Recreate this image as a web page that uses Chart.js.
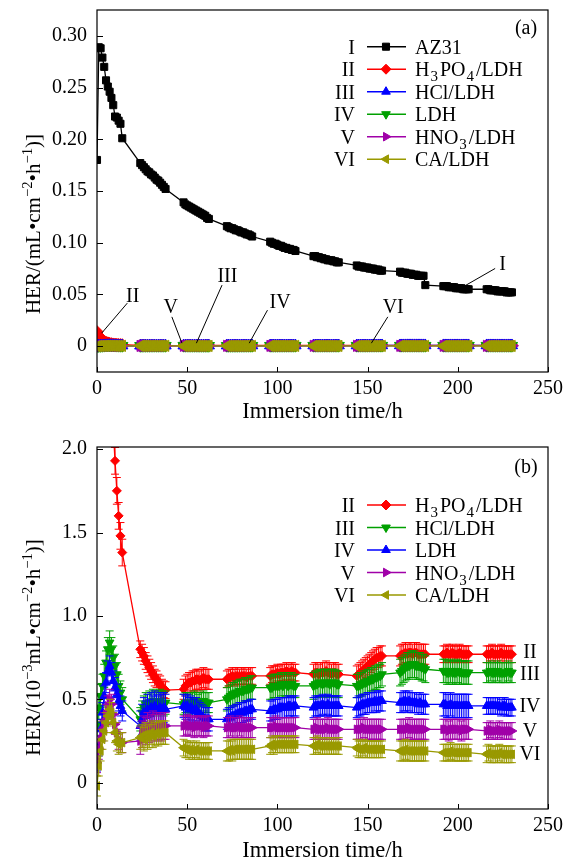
<!DOCTYPE html>
<html><head><meta charset="utf-8">
<script src="https://cdn.jsdelivr.net/npm/chart.js@4/dist/chart.umd.min.js"></script>
<style>
html,body{margin:0;padding:0;background:#fff;}
#wrap{position:relative;width:566px;height:865px;overflow:hidden;}
#ca{position:absolute;left:0;top:0;width:566px;height:430px;}
#cb{position:absolute;left:0;top:430px;width:566px;height:435px;}
</style></head><body>
<div id="wrap"><canvas id="ca" width="566" height="430"></canvas><canvas id="cb" width="566" height="435"></canvas></div>
<script>
// ---------------- data ----------------
const hours = [0,1,2,3,4,5,6,7,8,9,10,11,12,13,14,
24,25,26,27,28,29,30,31,32,33,34,35,36,37,38,
48,49,50,51,52,53,54,55,56,57,58,59,60,61,62,
72,73,74,75,76,77,78,79,80,81,82,83,84,85,86,
96,97,98,99,100,101,102,103,104,105,106,107,108,109,110,
120,121,122,123,124,125,126,127,128,129,130,131,132,133,134,
144,145,146,147,148,149,150,151,152,153,154,155,156,157,158,
168,169,170,171,172,173,174,175,176,177,178,179,180,181,182,
192,193,194,195,196,197,198,199,200,201,202,203,204,205,206,
216,217,218,219,220,221,222,223,224,225,226,227,228,229,230];

// HER of bare AZ31, mL cm^-2 h^-1
const az31 = [
0.180,0.289,0.288,0.279,0.270,0.257,0.251,0.246,0.240,0.233,0.222,0.221,0.218,0.215,0.201,
0.177,0.175,0.173,0.171,0.169,0.168,0.166,0.165,0.163,0.161,0.160,0.158,0.156,0.154,0.152,
0.139,0.137,0.136,0.135,0.134,0.133,0.132,0.131,0.130,0.129,0.128,0.127,0.126,0.124,0.123,
0.116,0.115,0.114,0.114,0.113,0.112,0.112,0.111,0.110,0.110,0.109,0.108,0.108,0.107,0.106,
0.101,0.100,0.099,0.099,0.098,0.097,0.097,0.096,0.095,0.095,0.094,0.094,0.093,0.093,0.092,
0.087,0.087,0.086,0.086,0.085,0.085,0.084,0.084,0.083,0.083,0.083,0.082,0.082,0.081,0.081,
0.078,0.077,0.077,0.077,0.076,0.076,0.076,0.075,0.075,0.075,0.074,0.074,0.074,0.073,0.073,
0.072,0.071,0.071,0.071,0.070,0.070,0.070,0.069,0.069,0.069,0.068,0.068,0.068,0.068,0.059,
0.058,0.058,0.058,0.057,0.057,0.057,0.057,0.056,0.056,0.056,0.056,0.055,0.055,0.055,0.055,
0.055,0.055,0.054,0.054,0.054,0.054,0.053,0.053,0.053,0.053,0.053,0.052,0.052,0.052,0.052];

// coated samples, 10^-3 mL cm^-2 h^-1
const h3po4 = [
14.0,10.0,7.2,5.6,4.6,3.8,3.2,2.75,2.4,2.12,1.93,1.75,1.60,1.48,1.38,
0.80,0.78,0.76,0.73,0.71,0.69,0.67,0.65,0.63,0.62,0.60,0.59,0.57,0.56,0.555,
0.56,0.58,0.59,0.60,0.60,0.61,0.61,0.62,0.62,0.61,0.62,0.63,0.62,0.62,0.62,
0.62,0.63,0.63,0.64,0.63,0.64,0.64,0.63,0.64,0.64,0.64,0.63,0.64,0.64,0.64,
0.64,0.65,0.65,0.65,0.66,0.65,0.66,0.66,0.66,0.67,0.66,0.66,0.67,0.66,0.66,
0.65,0.66,0.66,0.65,0.66,0.66,0.66,0.67,0.66,0.66,0.65,0.66,0.66,0.65,0.65,
0.64,0.65,0.66,0.67,0.68,0.69,0.70,0.71,0.72,0.73,0.74,0.75,0.75,0.76,0.76,
0.76,0.77,0.77,0.78,0.77,0.78,0.78,0.77,0.78,0.78,0.77,0.77,0.77,0.77,0.77,
0.77,0.77,0.78,0.77,0.77,0.78,0.77,0.77,0.77,0.78,0.77,0.77,0.77,0.77,0.77,
0.77,0.77,0.77,0.78,0.77,0.77,0.77,0.77,0.78,0.77,0.77,0.77,0.77,0.77,0.77];
const hcl = [
0.35,0.45,0.52,0.58,0.64,0.72,0.80,0.84,0.80,0.75,0.70,0.65,0.58,0.54,0.50,
0.38,0.42,0.45,0.47,0.46,0.48,0.47,0.49,0.48,0.47,0.48,0.49,0.48,0.47,0.48,
0.47,0.48,0.48,0.47,0.48,0.48,0.49,0.48,0.47,0.48,0.48,0.49,0.48,0.48,0.48,
0.50,0.51,0.52,0.53,0.53,0.54,0.54,0.55,0.55,0.55,0.56,0.56,0.56,0.57,0.57,
0.57,0.57,0.58,0.58,0.58,0.58,0.59,0.58,0.59,0.59,0.58,0.59,0.59,0.58,0.58,
0.58,0.59,0.59,0.60,0.60,0.59,0.60,0.60,0.60,0.59,0.60,0.60,0.60,0.59,0.59,
0.58,0.58,0.59,0.59,0.60,0.60,0.61,0.61,0.62,0.62,0.63,0.63,0.64,0.64,0.65,
0.66,0.67,0.68,0.69,0.70,0.70,0.71,0.71,0.71,0.70,0.70,0.70,0.69,0.69,0.68,
0.67,0.67,0.66,0.66,0.67,0.66,0.66,0.66,0.67,0.66,0.66,0.66,0.66,0.66,0.66,
0.66,0.66,0.67,0.66,0.66,0.66,0.67,0.66,0.66,0.66,0.66,0.66,0.67,0.66,0.66];
const ldh = [
0.13,0.22,0.32,0.42,0.52,0.60,0.67,0.70,0.66,0.61,0.57,0.53,0.49,0.46,0.43,
0.34,0.38,0.42,0.40,0.44,0.41,0.45,0.43,0.46,0.44,0.43,0.45,0.44,0.45,0.44,
0.46,0.45,0.46,0.44,0.45,0.44,0.43,0.44,0.42,0.41,0.40,0.39,0.38,0.38,0.38,
0.38,0.39,0.39,0.40,0.40,0.41,0.41,0.42,0.42,0.42,0.43,0.43,0.43,0.44,0.44,
0.43,0.43,0.44,0.44,0.44,0.45,0.45,0.45,0.45,0.45,0.46,0.46,0.45,0.46,0.46,
0.45,0.46,0.46,0.46,0.46,0.47,0.46,0.46,0.47,0.46,0.46,0.46,0.46,0.46,0.46,
0.45,0.46,0.46,0.47,0.47,0.47,0.48,0.48,0.48,0.48,0.49,0.48,0.49,0.49,0.49,
0.48,0.48,0.49,0.49,0.48,0.49,0.48,0.48,0.48,0.48,0.47,0.48,0.47,0.47,0.47,
0.47,0.47,0.46,0.46,0.47,0.46,0.46,0.46,0.46,0.46,0.46,0.46,0.46,0.46,0.46,
0.46,0.46,0.46,0.46,0.46,0.46,0.46,0.46,0.45,0.46,0.46,0.45,0.45,0.45,0.45];
const hno3 = [
0.12,0.20,0.26,0.31,0.36,0.41,0.46,0.50,0.47,0.41,0.35,0.30,0.26,0.24,0.24,
0.25,0.29,0.32,0.31,0.34,0.32,0.33,0.35,0.33,0.34,0.33,0.34,0.33,0.34,0.34,
0.34,0.34,0.35,0.34,0.34,0.34,0.33,0.34,0.34,0.34,0.34,0.33,0.34,0.34,0.34,
0.33,0.33,0.34,0.33,0.33,0.33,0.33,0.34,0.33,0.33,0.33,0.33,0.33,0.33,0.33,
0.33,0.33,0.33,0.34,0.33,0.33,0.33,0.33,0.33,0.33,0.33,0.33,0.33,0.33,0.33,
0.32,0.32,0.33,0.32,0.32,0.32,0.32,0.32,0.33,0.32,0.32,0.32,0.32,0.32,0.32,
0.32,0.32,0.32,0.32,0.33,0.32,0.32,0.32,0.32,0.32,0.32,0.32,0.32,0.32,0.32,
0.32,0.32,0.32,0.32,0.32,0.33,0.32,0.32,0.32,0.32,0.32,0.32,0.32,0.32,0.32,
0.32,0.32,0.32,0.31,0.32,0.32,0.32,0.32,0.32,0.32,0.31,0.32,0.32,0.32,0.32,
0.31,0.31,0.32,0.31,0.31,0.31,0.31,0.32,0.31,0.31,0.31,0.31,0.31,0.31,0.31];
const ca = [
-0.02,0.10,0.19,0.26,0.31,0.36,0.40,0.44,0.42,0.36,0.30,0.25,0.23,0.24,0.24,
0.27,0.28,0.26,0.29,0.27,0.28,0.30,0.28,0.29,0.30,0.29,0.30,0.30,0.30,0.30,
0.21,0.20,0.20,0.19,0.20,0.19,0.19,0.20,0.19,0.19,0.19,0.19,0.19,0.19,0.19,
0.19,0.19,0.20,0.19,0.20,0.20,0.20,0.20,0.20,0.20,0.20,0.20,0.20,0.20,0.20,
0.22,0.23,0.22,0.23,0.23,0.23,0.23,0.23,0.23,0.23,0.23,0.23,0.23,0.23,0.23,
0.22,0.22,0.23,0.22,0.22,0.22,0.22,0.22,0.22,0.22,0.22,0.22,0.22,0.22,0.22,
0.21,0.20,0.20,0.20,0.21,0.20,0.20,0.20,0.20,0.20,0.20,0.20,0.20,0.20,0.20,
0.19,0.19,0.19,0.20,0.19,0.19,0.19,0.19,0.19,0.19,0.19,0.19,0.19,0.19,0.19,
0.18,0.18,0.18,0.18,0.19,0.18,0.18,0.18,0.18,0.18,0.18,0.18,0.18,0.18,0.18,
0.17,0.18,0.17,0.17,0.17,0.17,0.17,0.18,0.17,0.17,0.17,0.17,0.17,0.17,0.17];

// error-bar half widths per daily measuring block (10^-3 units)
const errH3po4 = [0.08,0.05,0.06,0.05,0.05,0.06,0.06,0.06,0.05,0.05];
const errHcl   = [0.07,0.07,0.06,0.07,0.07,0.08,0.07,0.08,0.07,0.06];
const errLdh   = [0.06,0.09,0.07,0.06,0.06,0.06,0.06,0.06,0.07,0.05];
const errHno3  = [0.06,0.08,0.06,0.06,0.06,0.06,0.06,0.06,0.06,0.05];
const errCa    = [0.06,0.07,0.05,0.06,0.05,0.05,0.05,0.06,0.05,0.05];

const xTicks = [0,50,100,150,200,250];
const xTickLabels = ['0','50','100','150','200','250'];
const yTicksA = [0,0.05,0.10,0.15,0.20,0.25,0.30];
const yTickLabelsA = ['0','0.05','0.10','0.15','0.20','0.25','0.30'];
const yTicksB = [0,0.5,1.0,1.5,2.0];
const yTickLabelsB = ['0','0.5','1.0','1.5','2.0'];
const labelsB = [['II',0.78],['III',0.646],['IV',0.454],['V',0.306],['VI',0.166]];
// panel (a) callouts: text, label position, leader line from -> to (data units)
const calloutsA = [
  ['I',  224.8,0.0783, 203.6,0.058, 220.7,0.0751],
  ['II', 19.8,0.0474,  2.6,0.0126, 16.8,0.0416],
  ['V',  40.9,0.0367,  47.1,0.0029, 41.5,0.0283],
  ['III',72.3,0.067,   55.1,0.0029, 69.3,0.059],
  ['IV', 101.5,0.0416, 84.4,0.0029, 94.5,0.0348],
  ['VI', 164.2,0.0367, 152.1,0.0029, 161.2,0.0283]
];

// ---------------- style ----------------
const F = "'Liberation Serif','Times New Roman',serif";
const RED='#ff0000', BLUE='#0000ff', GREEN='#00a000', MAG='#a000a8', OLIVE='#999900';

function pts(arr, k){ return hours.map((h,i)=>({x:h, y: arr[i]*(k||1)})); }
function errs(blocks){ return hours.map((h,i)=>blocks[Math.floor(i/15)]); }

function drawRich(ctx, runs, x, y, size, align){
  const fontOf = r => (r[1]==='n'?size:size*(r[1]==='sub'?0.75:0.7))+'px '+F;
  const gap = r => r[1]==='sub' ? 3 : 0;
  let w = 0;
  runs.forEach(r=>{ ctx.font = fontOf(r); w += ctx.measureText(r[0]).width + gap(r); });
  let cx = align==='center' ? x - w/2 : (align==='right' ? x - w : x);
  ctx.textAlign='left'; ctx.textBaseline='alphabetic';
  runs.forEach(r=>{
    ctx.font = fontOf(r);
    const dy = r[1]==='sup' ? -size*0.38 : (r[1]==='sub' ? size*0.25 : 0);
    ctx.fillText(r[0], cx + (r[1]==='sub'?1:0), y+dy);
    cx += ctx.measureText(r[0]).width + gap(r);
  });
}

function frameAndTicks(chart){
  const ctx = chart.ctx, a = chart.chartArea;
  ctx.save();
  ctx.strokeStyle='#000'; ctx.lineWidth=1.2;
  ctx.strokeRect(a.left, a.top, a.right-a.left, a.bottom-a.top);
  ctx.lineWidth=1;
  const xs = chart.scales.x, ys = chart.scales.y;
  ctx.beginPath();
  xs.ticks.forEach(t=>{ const p=Math.round(xs.getPixelForValue(t.value))+0.5; ctx.moveTo(p,a.bottom); ctx.lineTo(p,a.bottom-5); });
  ys.ticks.forEach(t=>{ const p=Math.round(ys.getPixelForValue(t.value))+0.5; ctx.moveTo(a.left,p); ctx.lineTo(a.left+6,p); });
  ctx.stroke();
  ctx.restore();
}

function drawLegend(chart, items, y0, step){
  const ctx = chart.ctx;
  ctx.save();
  items.forEach((it,i)=>{
    const y = y0 + i*step;
    ctx.fillStyle='#000'; ctx.font='20px '+F; ctx.textAlign='right'; ctx.textBaseline='alphabetic';
    ctx.fillText(it.num, 355, y+7);
    ctx.strokeStyle=it.color; ctx.lineWidth=1.5;
    ctx.beginPath(); ctx.moveTo(367,y); ctx.lineTo(406,y); ctx.stroke();
    ctx.fillStyle=it.color; ctx.strokeStyle=it.color; ctx.lineWidth=1;
    Chart.helpers.drawPoint(ctx,{pointStyle:it.style, radius:it.r||5, rotation:it.rot||0, borderWidth:1}, 386, y);
    ctx.fillStyle='#000';
    drawRich(ctx, it.runs, 415, y+7, 20, 'left');
  });
  ctx.restore();
}

function drawYTitle(ctx, runs, bx, cy){
  ctx.save();
  ctx.translate(bx, cy); ctx.rotate(-Math.PI/2);
  ctx.fillStyle='#000';
  drawRich(ctx, runs, 0, 0, 21, 'center');
  ctx.restore();
}

const errorBars = {
  id:'errorBars',
  beforeDatasetDraw(chart, args){
    const ds = chart.data.datasets[args.index];
    if(!ds.errors) return;
    const ctx=chart.ctx, xs=chart.scales.x, ys=chart.scales.y, a=chart.chartArea;
    ctx.save();
    ctx.beginPath(); ctx.rect(a.left,a.top,a.right-a.left,a.bottom-a.top); ctx.clip();
    ctx.strokeStyle=ds.borderColor; ctx.lineWidth=1;
    ctx.beginPath();
    ds.data.forEach((p,i)=>{
      const e=ds.errors[i]; const px=xs.getPixelForValue(p.x);
      const y1=ys.getPixelForValue(p.y+e), y2=ys.getPixelForValue(p.y-e);
      ctx.moveTo(px,y1); ctx.lineTo(px,y2);
      ctx.moveTo(px-4,y1); ctx.lineTo(px+4,y1);
      ctx.moveTo(px-4,y2); ctx.lineTo(px+4,y2);
    });
    ctx.stroke();
    ctx.restore();
  }
};

const decorA = {
  id:'decorA',
  afterDraw(chart){
    const ctx=chart.ctx, xs=chart.scales.x, ys=chart.scales.y;
    frameAndTicks(chart);
    drawLegend(chart,[
      {num:'I',  color:'#000', style:'rect', r:5, runs:[['AZ31','n']]},
      {num:'II', color:RED, style:'rectRot', r:5, runs:[['H','n'],['3','sub'],['PO','n'],['4','sub'],['/LDH','n']]},
      {num:'III',color:BLUE, style:'triangle', runs:[['HCl/LDH','n']]},
      {num:'IV', color:GREEN, style:'triangle', rot:180, runs:[['LDH','n']]},
      {num:'V',  color:MAG, style:'triangle', rot:90, runs:[['HNO','n'],['3','sub'],['/LDH','n']]},
      {num:'VI', color:OLIVE, style:'triangle', rot:-90, runs:[['CA/LDH','n']]}
    ], 46.7, 22.5);
    ctx.save();
    ctx.fillStyle='#000'; ctx.font='20px '+F; ctx.textAlign='center'; ctx.textBaseline='alphabetic';
    ctx.fillText('(a)', 526, 34);
    ctx.strokeStyle='#000'; ctx.lineWidth=1;
    ctx.textBaseline='middle';
    calloutsA.forEach(c=>{
      ctx.fillText(c[0], xs.getPixelForValue(c[1]), ys.getPixelForValue(c[2]));
      ctx.beginPath();
      ctx.moveTo(xs.getPixelForValue(c[3]), ys.getPixelForValue(c[4]));
      ctx.lineTo(xs.getPixelForValue(c[5]), ys.getPixelForValue(c[6]));
      ctx.stroke();
    });
    ctx.restore();
    drawYTitle(ctx, [['HER/(mL•cm','n'],['−2','sup'],['•h','n'],['−1','sup'],[')]','n']], 40, 224);
  }
};

const decorB = {
  id:'decorB',
  afterDraw(chart){
    const ctx=chart.ctx, xs=chart.scales.x, ys=chart.scales.y;
    frameAndTicks(chart);
    drawLegend(chart,[
      {num:'II', color:RED, style:'rectRot', r:5, runs:[['H','n'],['3','sub'],['PO','n'],['4','sub'],['/LDH','n']]},
      {num:'III',color:GREEN, style:'triangle', rot:180, runs:[['HCl/LDH','n']]},
      {num:'IV', color:BLUE, style:'triangle', runs:[['LDH','n']]},
      {num:'V',  color:MAG, style:'triangle', rot:90, runs:[['HNO','n'],['3','sub'],['/LDH','n']]},
      {num:'VI', color:OLIVE, style:'triangle', rot:-90, runs:[['CA/LDH','n']]}
    ], 75, 22.5);
    ctx.save();
    ctx.fillStyle='#000'; ctx.font='20px '+F; ctx.textAlign='center'; ctx.textBaseline='alphabetic';
    ctx.fillText('(b)', 526, 43);
    ctx.textBaseline='middle';
    labelsB.forEach(l=>{ ctx.fillText(l[0], xs.getPixelForValue(240), ys.getPixelForValue(l[1])); });
    ctx.restore();
    drawYTitle(ctx, [['HER/(10','n'],['−3','sup'],['mL•cm','n'],['−2','sup'],['•h','n'],['−1','sup'],[')]','n']], 40, 217.5);
  }
};

function ds(label, arr, k, color, style, rot, r, errBlocks, order){
  const d = {label, data: pts(arr,k), borderColor:color, backgroundColor:color,
    pointStyle:style, pointRotation:rot||0, pointRadius:r, pointBorderWidth:1,
    pointBorderColor:color, pointBackgroundColor:color,
    borderWidth:1.3, tension:0, order: order};
  if(errBlocks) d.errors = errs(errBlocks);
  return d;
}

function scales(ymin, ymax, yTicks, yLabels, xh, titlePadB){
  return {
    x:{type:'linear', min:0, max:250,
      grid:{display:false, drawTicks:false}, border:{display:false},
      afterBuildTicks:s=>{ s.ticks = xTicks.map(v=>({value:v})); },
      ticks:{padding:5, color:'#000', font:{family:F,size:20}, maxRotation:0, autoSkip:false,
             callback:(v,i)=>xTickLabels[i]},
      title:{display:true, text:'Immersion time/h', color:'#000', font:{family:F,size:22.5}, padding:{top:0,bottom:titlePadB}},
      afterFit:s=>{ s.height = xh; s.paddingLeft=0; s.paddingRight=0; }
    },
    y:{type:'linear', min:ymin, max:ymax,
      grid:{display:false, drawTicks:false}, border:{display:false},
      afterBuildTicks:s=>{ s.ticks = yTicks.map(v=>({value:v})); },
      ticks:{padding:10, color:'#000', font:{family:F,size:20}, autoSkip:false,
             callback:(v,i)=>yLabels[i]},
      afterFit:s=>{ s.width = 97; s.paddingTop=0; s.paddingBottom=0; }
    }
  };
}

const common = {responsive:false, animation:false, devicePixelRatio:1,
  plugins:{legend:{display:false}, tooltip:{enabled:false}}, events:[]};

new Chart(document.getElementById('ca'), {
  type:'line',
  data:{datasets:[
    ds('AZ31', az31, 1, '#000', 'rect', 0, 5, null, 6),
    ds('H3PO4/LDH', h3po4, 0.001, RED, 'rectRot', 0, 6, null, 5),
    ds('HCl/LDH', hcl, 0.001, BLUE, 'triangle', 0, 6.5, null, 4),
    ds('LDH', ldh, 0.001, GREEN, 'triangle', 180, 6.5, null, 3),
    ds('HNO3/LDH', hno3, 0.001, MAG, 'triangle', 90, 6.5, null, 2),
    ds('CA/LDH', ca, 0.001, OLIVE, 'triangle', -90, 6.5, null, 1)
  ]},
  options:Object.assign({}, common, {
    layout:{padding:{left:0,right:18,top:10,bottom:0}},
    scales: scales(-0.025, 0.325, yTicksA, yTickLabelsA, 58, 4.5)
  }),
  plugins:[decorA]
});

new Chart(document.getElementById('cb'), {
  type:'line',
  data:{datasets:[
    ds('H3PO4/LDH', h3po4, 1, RED, 'rectRot', 0, 4.5, errH3po4, 5),
    ds('HCl/LDH', hcl, 1, GREEN, 'triangle', 180, 5, errHcl, 4),
    ds('LDH', ldh, 1, BLUE, 'triangle', 0, 5, errLdh, 3),
    ds('HNO3/LDH', hno3, 1, MAG, 'triangle', 90, 5, errHno3, 2),
    ds('CA/LDH', ca, 1, OLIVE, 'triangle', -90, 5, errCa, 1)
  ]},
  options:Object.assign({}, common, {
    layout:{padding:{left:0,right:18,top:17,bottom:0}},
    scales: scales(-0.158, 2.013, yTicksB, yTickLabelsB, 56, 0)
  }),
  plugins:[errorBars, decorB]
});
</script>
</body></html>
